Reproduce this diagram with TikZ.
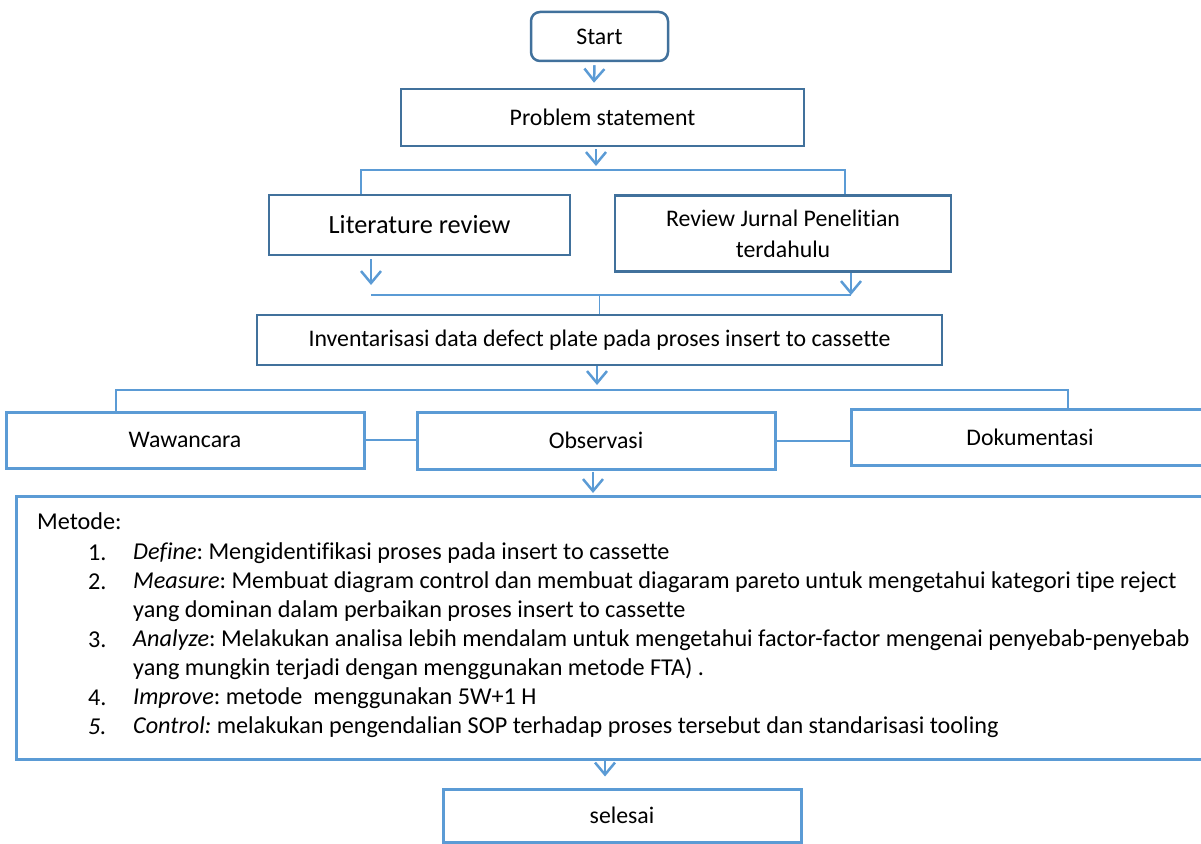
\documentclass[tikz,border=0pt]{standalone}
\usepackage{fontspec}
\setmainfont{Carlito}[Ligatures=NoCommon]
\frenchspacing
\usetikzlibrary{arrows.meta}
\definecolor{dkb}{HTML}{41719C}
\definecolor{ltb}{HTML}{5B9BD5}
\tikzset{
  every node/.style={font=\fontsize{23.8}{29}\selectfont, text=black},
  dbox/.style={draw=dkb, line width=2.5pt, inner sep=0pt, align=center},
  lbox/.style={draw=ltb, line width=3pt, inner sep=0pt, align=center},
  ln/.style={draw=ltb, line width=1.4pt},
  lnk/.style={draw=ltb, line width=2.6pt},
  arr/.style={draw=ltb, line width=2.5pt, -{Straight Barb[length=12pt,width=20pt,line width=2.5pt]}},
  txt/.style={inner sep=0pt, anchor=west, font=\fontsize{24.2}{29}\selectfont\frenchspacing},
}
\begin{document}
\begin{tikzpicture}[x=1pt,y=-1pt]
\useasboundingbox (0,0) rectangle (1201,843);
\clip (0,0) rectangle (1201,843);
% boxes
\node[dbox, rounded corners=9pt, minimum width=137pt, minimum height=49pt] (start) at (599.5,36.5) {Start};
\node[dbox, minimum width=403pt, minimum height=57pt] (prob) at (602.5,117.5) {Problem statement};
\node[dbox, minimum width=301pt, minimum height=60pt, font=\fontsize{26.3}{31}\selectfont] (lit) at (419.5,225) {Literature review};
\node[dbox, minimum width=336pt, minimum height=76pt, font=\fontsize{23.8}{31}\selectfont] (rev) at (783,233.5) {Review Jurnal Penelitian\\terdahulu};
\node[dbox, minimum width=685pt, minimum height=50pt] (inv) at (599.5,340) {Inventarisasi data defect plate pada proses insert to cassette};
\node[lbox, minimum width=358pt, minimum height=56pt] (waw) at (185,440) {Wawancara};
\node[lbox, minimum width=358pt, minimum height=57pt] (obs) at (596,440.5) {Observasi};
\node[lbox, minimum width=358pt, minimum height=56pt] (dok) at (1030,437) {Dokumentasi};
\node[lbox, anchor=north west, minimum width=1194pt, minimum height=263pt] (met) at (15,495) {};
\node[lbox, minimum width=358pt, minimum height=53pt] (sel) at (622,815.5) {selesai};
% Metode text
\node[txt] (m0) at (37,521) {Metode:};
\node[txt] (n1) at (88,553) {1.};
\node[txt] (m1) at (133,553) {\textit{Define}: Mengidentifikasi proses pada insert to cassette};
\node[txt] (n2) at (88,582) {2.};
\node[txt] (m2) at (133,582) {\textit{Measure}: Membuat diagram control dan membuat diagaram pareto untuk mengetahui kategori tipe reject};
\node[txt] (m2b) at (133,611) {yang dominan dalam perbaikan proses insert to cassette};
\node[txt] (n3) at (88,640) {3.};
\node[txt] (m3) at (133,640) {\textit{Analyze}: Melakukan analisa lebih mendalam untuk mengetahui factor-factor mengenai penyebab-penyebab};
\node[txt] (m3b) at (133,669) {yang mungkin terjadi dengan menggunakan metode FTA) .};
\node[txt] (n4) at (88,698) {4.};
\node[txt] (m4) at (133,698) {\textit{Improve}: metode \ menggunakan 5W+1 H};
\node[txt] (n5) at (88,727) {\textit{5.}};
\node[txt] (m5) at (133,727) {\textit{Control:} melakukan pengendalian SOP terhadap proses tersebut dan standarisasi tooling};
% junction coordinates
\coordinate (j1) at (597,170);
\coordinate (j2) at (597,295);
\coordinate (j2l) at (371,295);
\coordinate (j2r) at (851,295);
\coordinate (j3) at (597,390);
% connectors
\draw[arr] ([xshift=-5pt,yshift=-3pt]start.south) -- ([xshift=-8.5pt,yshift=5pt]prob.north);
\draw[arr] ([xshift=-6.5pt,yshift=-2pt]prob.south) -- ([yshift=4pt]j1 -| 596,0);
\draw[ln] ([xshift=-58.5pt]lit.north) -- ([xshift=-58.5pt]lit.north |- j1) -- ([xshift=62pt]rev.north |- j1) -- ([xshift=62pt]rev.north);
\draw[arr] ([xshift=-48.5pt,yshift=-3pt]lit.south) -- ([yshift=10pt]j2l);
\draw[arr] ([xshift=68pt]rev.south) -- (j2r);
\draw[ln] (j2l) -- (j2r);
\draw[ln] (j2) -- (j2 -| inv.north) -- (inv.north);
\draw[arr] ([xshift=-2.5pt]inv.south) -- ([yshift=5pt]j3);
\draw[ln] ([xshift=-69pt]waw.north) -- ([xshift=-69pt]waw.north |- j3) -- ([xshift=38pt]dok.north |- j3) -- ([xshift=38pt]dok.north);
\draw[lnk] (waw.east) -- (waw.east -| obs.west);
\draw[lnk] ([yshift=-0.5pt]obs.east) -- ([yshift=-0.5pt]obs.east -| dok.west);
\draw[arr] ([xshift=-3pt,yshift=-1pt]obs.south) -- ([xshift=-3pt,yshift=2pt]obs.south |- met.north);
\draw[arr] ([xshift=-17pt]met.south -| sel.north) -- ([xshift=-17pt,yshift=11pt]sel.north);
\end{tikzpicture}
\end{document}
